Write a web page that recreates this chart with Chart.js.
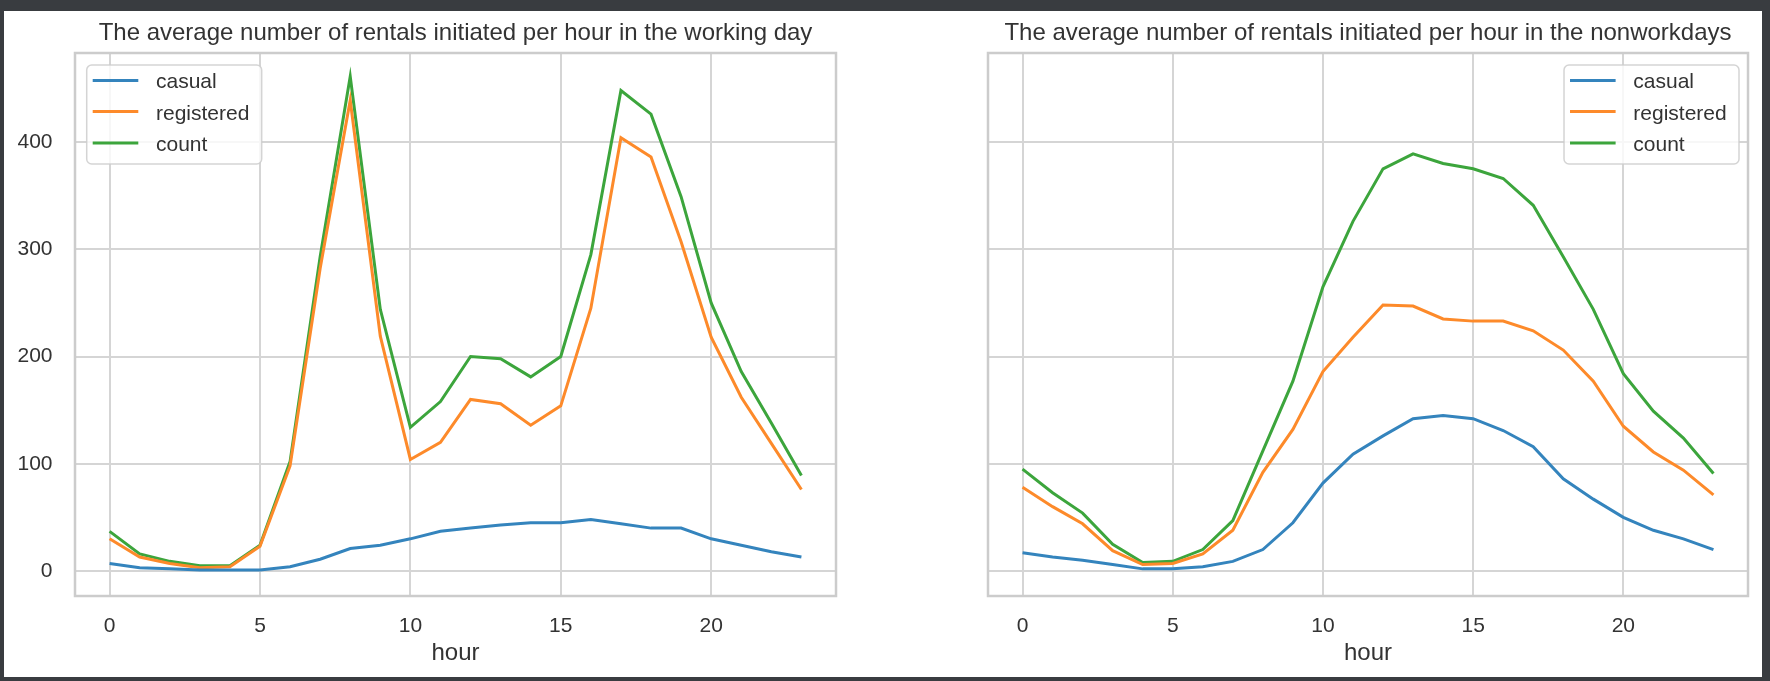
<!DOCTYPE html>
<html>
<head>
<meta charset="utf-8">
<script src="https://cdn.jsdelivr.net/npm/chart.js@4.4.1/dist/chart.umd.min.js"></script>
<style>
  html, body { margin: 0; padding: 0; background: #393c40; width: 1770px; height: 681px; overflow: hidden; }
  #sheet { position: absolute; left: 4px; top: 11px; width: 1758px; height: 666px; background: #ffffff; }
  canvas { position: absolute; top: 0; }
  #c1 { left: 0; }
  #c2 { left: 881px; }
</style>
</head>
<body>
<div id="sheet">
  <canvas id="c1" width="881" height="666"></canvas>
  <canvas id="c2" width="877" height="666"></canvas>
</div>
<script>
// ---- data ----
const hours = [0,1,2,3,4,5,6,7,8,9,10,11,12,13,14,15,16,17,18,19,20,21,22,23];
const seriesNames = ['casual', 'registered', 'count'];

const workCasual     = [7, 3, 2, 1, 1, 1, 4, 11, 21, 24, 30, 37, 40, 43, 45, 45, 48, 44, 40, 40, 30, 24, 18, 13];
const workRegistered = [30, 13, 7, 3, 4, 23, 98, 282, 439, 219, 104, 120, 160, 156, 136, 154, 245, 404, 386, 307, 218, 162, 119, 76];
const workCount      = [37, 16, 9, 5, 5, 24, 102, 293, 461, 244, 134, 158, 200, 198, 181, 200, 295, 448, 426, 349, 250, 186, 138, 89];

const offCasual      = [17, 13, 10, 6, 2, 2, 4, 9, 20, 45, 82, 109, 126, 142, 145, 142, 131, 116, 86, 67, 50, 38, 30, 20];
const offRegistered  = [78, 60, 44, 19, 6, 7, 16, 38, 92, 132, 186, 218, 248, 247, 235, 233, 233, 224, 206, 177, 135, 111, 94, 71];
const offCount       = [95, 73, 54, 25, 8, 9, 20, 47, 112, 177, 265, 326, 375, 389, 380, 375, 366, 341, 293, 244, 184, 149, 124, 91];

const xTicks = [0, 5, 10, 15, 20];
const yTicks = [0, 100, 200, 300, 400];

const titleWork = 'The average number of rentals initiated per hour in the working day';
const titleOff  = 'The average number of rentals initiated per hour in the nonworkdays';
const xLabel = 'hour';

// ---- styling ----
const FONT = '"Liberation Sans", Arial, sans-serif';
const TEXT = '#333333';
const GRID = '#d5d5d5';
const COLORS = ['#3484bd', '#fd8a2a', '#3ca53c'];
Chart.defaults.font.family = FONT;
Chart.defaults.color = TEXT;

const framePlugin = {
  id: 'frame',
  beforeDatasetsDraw(chart) {
    const { ctx, chartArea: a } = chart;
    ctx.save();
    ctx.strokeStyle = '#cccccc';
    ctx.lineWidth = 2.5;
    ctx.strokeRect(a.left, a.top, a.right - a.left, a.bottom - a.top);
    ctx.restore();
  }
};

const boxLegend = {
  id: 'boxLegend',
  afterDatasetsDraw(chart, args, opts) {
    const { ctx, chartArea: a } = chart;
    const fontSize = 21;
    ctx.save();
    ctx.font = fontSize + 'px ' + FONT;
    const ds = chart.data.datasets;
    let maxW = 0;
    ds.forEach(d => { maxW = Math.max(maxW, ctx.measureText(d.label).width); });
    const textX = 69.3;
    const w = textX + maxW + 12.3;
    const h = 99;
    const x = opts.side === 'right' ? a.right - opts.offsetX - w : a.left + opts.offsetX;
    const y = a.top + opts.offsetY;
    const r = 5;
    ctx.beginPath();
    ctx.moveTo(x + r, y);
    ctx.lineTo(x + w - r, y);
    ctx.arcTo(x + w, y, x + w, y + r, r);
    ctx.lineTo(x + w, y + h - r);
    ctx.arcTo(x + w, y + h, x + w - r, y + h, r);
    ctx.lineTo(x + r, y + h);
    ctx.arcTo(x, y + h, x, y + h - r, r);
    ctx.lineTo(x, y + r);
    ctx.arcTo(x, y, x + r, y, r);
    ctx.closePath();
    ctx.fillStyle = 'rgba(255,255,255,0.8)';
    ctx.fill();
    ctx.strokeStyle = 'rgba(204,204,204,0.85)';
    ctx.lineWidth = 1.5;
    ctx.stroke();
    const rowHandle = [15.5, 46.5, 78];
    const rowBase = [23.3, 54.5, 85.7];
    ds.forEach((d, i) => {
      ctx.strokeStyle = d.borderColor;
      ctx.lineWidth = 3;
      ctx.beginPath();
      ctx.moveTo(x + 6, y + rowHandle[i]);
      ctx.lineTo(x + 51.6, y + rowHandle[i]);
      ctx.stroke();
      ctx.fillStyle = TEXT;
      ctx.textBaseline = 'alphabetic';
      ctx.textAlign = 'left';
      ctx.fillText(d.label, x + textX, y + rowBase[i]);
    });
    ctx.restore();
  }
};

function makeDatasets(arrs) {
  return arrs.map((vals, i) => ({
    label: seriesNames[i],
    data: hours.map((hh, j) => ({ x: hh, y: vals[j] })),
    borderColor: COLORS[i],
    backgroundColor: COLORS[i],
    borderWidth: 3,
    pointRadius: 0,
    pointHoverRadius: 0,
    tension: 0,
    fill: false
  }));
}

function makeChart(id, title, arrs, opts) {
  return new Chart(document.getElementById(id), {
    type: 'line',
    data: { datasets: makeDatasets(arrs) },
    plugins: [framePlugin, boxLegend],
    options: {
      responsive: false,
      animation: false,
      devicePixelRatio: 1,
      layout: { padding: { left: 0, right: opts.padRight, top: 0, bottom: 0 } },
      plugins: {
        legend: { display: false },
        tooltip: { enabled: false },
        title: {
          display: true, text: title, fullSize: false, color: TEXT,
          font: { size: 24, weight: 'normal' },
          padding: { top: 8.1, bottom: 5.1 }
        },
        boxLegend: { side: opts.legendSide, offsetX: opts.legendOffsetX, offsetY: 12 }
      },
      scales: {
        x: {
          type: 'linear', min: -1.15, max: 24.15,
          afterBuildTicks: s => { s.ticks = xTicks.map(v => ({ value: v })); },
          ticks: { font: { size: 21 }, color: TEXT, padding: 17.2, maxRotation: 0, autoSkip: false },
          grid: { color: GRID, lineWidth: 2, drawTicks: false },
          border: { display: false },
          title: { display: true, text: xLabel, color: TEXT, font: { size: 24 }, padding: { top: 0, bottom: 9.2 } },
          afterFit: s => { s.height = 81; }
        },
        y: {
          type: 'linear', min: -23.3, max: 483,
          afterBuildTicks: s => { s.ticks = yTicks.map(v => ({ value: v })); },
          ticks: { display: opts.showY, font: { size: 21 }, color: TEXT, padding: 22.5 },
          grid: { color: GRID, lineWidth: 2, drawTicks: false },
          border: { display: false },
          afterFit: s => { s.width = opts.yWidth; }
        }
      }
    }
  });
}

makeChart('c1', titleWork, [workCasual, workRegistered, workCount],
  { padRight: 49, yWidth: 71, showY: true, legendSide: 'left', legendOffsetX: 11.7 });
makeChart('c2', titleOff, [offCasual, offRegistered, offCount],
  { padRight: 14, yWidth: 103, showY: false, legendSide: 'right', legendOffsetX: 9 });
</script>
</body>
</html>
